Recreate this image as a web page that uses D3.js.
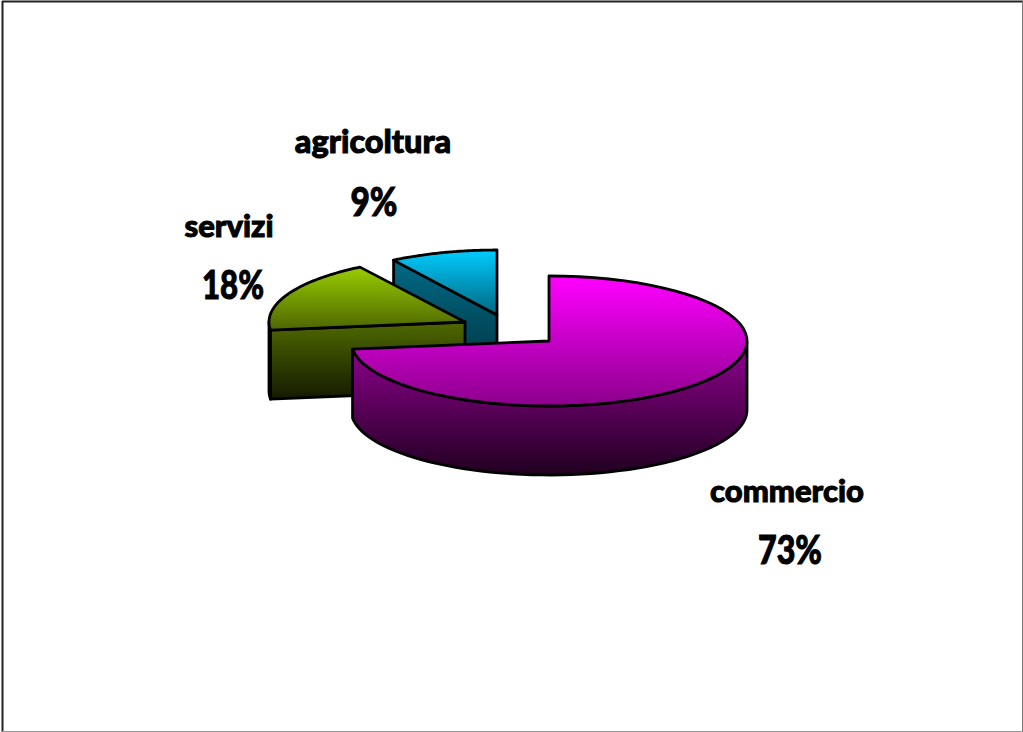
<!DOCTYPE html>
<html><head><meta charset="utf-8">
<script src="https://cdn.jsdelivr.net/npm/d3@7"></script>
<style>html,body{margin:0;padding:0;background:#fff}svg{display:block}
text{font-family:Lato,"Open Sans",sans-serif;font-weight:900;fill:#000;stroke:#000;stroke-width:1;text-anchor:middle}</style>
</head><body><div id="c"></div>
<script>
const categories = ["commercio", "servizi", "agricoltura"];
const shares = [73, 18, 9];
const percentLabels = ["73%", "18%", "9%"];
const topColors = [["#ff00ff", "#8c008c"], ["#99cc00", "#4d6600"], ["#00ccff", "#006680"]];
const sideColors = [["#920092", "#200020"], ["#4f6900", "#141a00"], ["#006a85", "#00303c"]];
const W = 1023, H = 732, RY = 65, DEPTH = 69;
const radii = [198, 196, 193];
const centers = [[549, 341], [465, 322], [497, 315]];
const nameAt = [[787, 502], [229, 237], [373, 153]];
const nameSize = [31, 31, 32.5];
const pctAt = [[790, 564], [233, 299], [374, 216]];
const pctWidth = [64, 62, 47];

const svg = d3.select("#c").append("svg").attr("width", W).attr("height", H);
const frame = [
  [[2.5, 1], [2.5, 732], "#222", 2],
  [[2, 1.5], [1023, 1.5], "#222", 2],
  [[1022.5, 1], [1022.5, 732], "#777", 1],
  [[2, 731.5], [1023, 731.5], "#999", 1]
];
frame.forEach(f => svg.append("line").attr("x1", f[0][0]).attr("y1", f[0][1]).attr("x2", f[1][0]).attr("y2", f[1][1])
  .attr("stroke", f[2]).attr("stroke-width", f[3]));

const defs = svg.append("defs");
function grad(id, cols, y0, y1) {
  const g = defs.append("linearGradient").attr("id", id).attr("gradientUnits", "userSpaceOnUse")
    .attr("x1", 0).attr("x2", 0).attr("y1", y0).attr("y2", y1);
  g.append("stop").attr("offset", 0).attr("stop-color", cols[0]);
  g.append("stop").attr("offset", 1).attr("stop-color", cols[1]);
}
const arcs = d3.pie().sort(null).value(d => d)(shares);
const line = d3.line();
const steps = (a, b) => d3.range(0, 61).map(i => d3.scaleLinear().domain([0, 60]).range([a, b])(i));

// draw back to front
[2, 1, 0].forEach(i => {
  const a = arcs[i], [cx, cy] = centers[i], RX = radii[i];
  const pt = (t, dz = 0) => [cx + RX * Math.sin(t), cy - RY * Math.cos(t) + dz];
  const style = (sel, id) => sel.attr("fill", `url(#${id})`).attr("stroke", "#000")
    .attr("stroke-width", 2.8).attr("stroke-linejoin", "round");
  const topPts = steps(a.startAngle, a.endAngle).map(t => pt(t));
  const topPath = [[cx, cy], ...topPts];
  const ys = topPath.map(p => p[1]);
  grad("top" + i, topColors[i], d3.min(ys), d3.max(ys));

  // outer wall, only where the rim faces the viewer (90deg to 270deg)
  const w0 = Math.max(a.startAngle, Math.PI / 2), w1 = Math.min(a.endAngle, Math.PI * 1.5);
  const sides = [];
  if (w1 > w0) {
    const rim = steps(w0, w1);
    sides.push([...rim.map(t => pt(t)), ...rim.slice().reverse().map(t => pt(t, DEPTH))]);
  }
  // radial cut face on the slice's start side, visible for the two small slices
  const startP = pt(a.startAngle);
  if (i > 0) sides.push([startP, [cx, cy], [cx, cy + DEPTH], [startP[0], startP[1] + DEPTH]]);
  if (sides.length) {
    const all = sides.flat().map(p => p[1]);
    grad("side" + i, sideColors[i], d3.min(all), d3.max(all));
    sides.forEach(s => style(svg.append("path").attr("d", line(s) + "Z"), "side" + i));
  }
  style(svg.append("path").attr("d", line(topPath) + "Z"), "top" + i);
});

categories.forEach((c, i) => {
  svg.append("text").attr("x", nameAt[i][0]).attr("y", nameAt[i][1]).attr("font-size", nameSize[i]).text(c);
  svg.append("text").attr("x", pctAt[i][0]).attr("y", pctAt[i][1]).attr("font-size", 40)
    .attr("textLength", pctWidth[i]).attr("lengthAdjust", "spacingAndGlyphs").text(percentLabels[i]);
});
</script></body></html>
